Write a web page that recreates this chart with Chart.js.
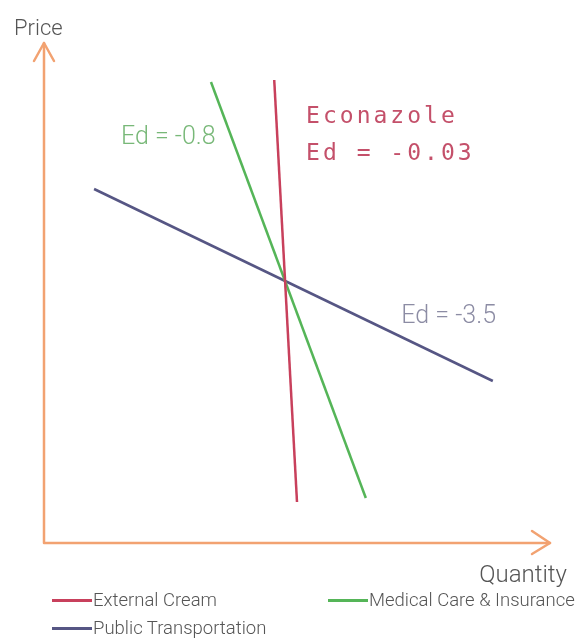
<!DOCTYPE html>
<html>
<head>
<meta charset="utf-8">
<script src="https://cdn.jsdelivr.net/npm/chart.js@4.4.1/dist/chart.umd.min.js"></script>
<style>
    body { margin: 0; background: #fff; }
    #wrap { position: relative; width: 584px; height: 638px; }
    #legend { position: absolute; left: 52px; top: 589px; width: 530px; font-family: Roboto, "Open Sans", sans-serif; font-weight: 300; font-size: 18.5px; color: #555; }
    .legend-item { position: absolute; display: flex; align-items: center; white-space: nowrap; }
    .legend-line { width: 40px; height: 3px; margin-right: 1px; }
</style>
</head>
<body>
<div id="wrap">
    <canvas id="elasticityChart" width="584" height="638"></canvas>
    <div id="legend"></div>
</div>
<script>
// demand curves, in axis units (0-100 both ways)
const seriesNames = ['External Cream', 'Medical Care & Insurance', 'Public Transportation'];
const seriesColors = ['#c8405c', '#55b558', '#565684'];
const creamQty = [45.5, 50.0];
const creamPrice = [92.6, 8.2];
const medicalQty = [33.0, 63.6];
const medicalPrice = [92.2, 9.0];
const transportQty = [9.9, 88.7];
const transportPrice = [70.8, 32.4];

const axisColor = '#f2a271';

function toPoints(xs, ys) {
    return xs.map((x, i) => ({ x: x, y: ys[i] }));
}

// text notes placed in axis units
const notes = [
    { text: 'Ed = -0.8', x: 15.2, y: 79.8, color: '#78b878', font: '300 25px Roboto, sans-serif', spacing: '0px' },
    { text: 'Ed = -3.5', x: 70.6, y: 44.0, color: '#8c8ca4', font: '300 25px Roboto, sans-serif', spacing: '0px' },
    { text: 'Econazole', x: 51.8, y: 84.0, color: '#c4506a', font: '23px "DejaVu Sans Mono", monospace', spacing: '3px' },
    { text: 'Ed = -0.03', x: 51.8, y: 76.6, color: '#c4506a', font: '23px "DejaVu Sans Mono", monospace', spacing: '3px' },
];

const axesPlugin = {
    id: 'arrowAxes',
    beforeDatasetsDraw(chart) {
        const ctx = chart.ctx;
        const a = chart.chartArea;
        ctx.save();
        ctx.strokeStyle = axisColor;
        ctx.lineWidth = 2.5;
        ctx.lineCap = 'round';
        ctx.lineJoin = 'round';
        ctx.beginPath();
        ctx.moveTo(a.left, a.top);
        ctx.lineTo(a.left, a.bottom);
        ctx.lineTo(a.right, a.bottom);
        ctx.stroke();
        // arrow heads
        ctx.beginPath();
        ctx.moveTo(a.left - 10, a.top + 18);
        ctx.lineTo(a.left, a.top);
        ctx.lineTo(a.left + 10, a.top + 18);
        ctx.moveTo(a.right - 18, a.bottom - 12);
        ctx.lineTo(a.right, a.bottom);
        ctx.lineTo(a.right - 18, a.bottom + 11);
        ctx.stroke();

        ctx.fillStyle = '#555';
        ctx.font = '300 22px Roboto, sans-serif';
        ctx.textBaseline = 'alphabetic';
        ctx.textAlign = 'left';
        ctx.fillText('Price', a.left - 30, a.top - 8);
        ctx.textAlign = 'right';
        ctx.font = '300 24px Roboto, sans-serif';
        ctx.fillText('Quantity', a.right + 17, a.bottom + 39);
        ctx.restore();
    },
    afterDatasetsDraw(chart) {
        const ctx = chart.ctx;
        const xs = chart.scales.x;
        const ys = chart.scales.y;
        ctx.save();
        ctx.textAlign = 'left';
        ctx.textBaseline = 'alphabetic';
        notes.forEach(n => {
            ctx.font = n.font;
            ctx.fillStyle = n.color;
            if ('letterSpacing' in ctx) ctx.letterSpacing = n.spacing;
            ctx.fillText(n.text, xs.getPixelForValue(n.x), ys.getPixelForValue(n.y));
        });
        ctx.restore();
    }
};

const ctx = document.getElementById('elasticityChart').getContext('2d');
const chart = new Chart(ctx, {
    type: 'scatter',
    data: {
        datasets: [
            { label: seriesNames[0], data: toPoints(creamQty, creamPrice), borderColor: seriesColors[0] },
            { label: seriesNames[1], data: toPoints(medicalQty, medicalPrice), borderColor: seriesColors[1] },
            { label: seriesNames[2], data: toPoints(transportQty, transportPrice), borderColor: seriesColors[2] },
        ].map(ds => Object.assign(ds, { showLine: true, pointRadius: 0, borderWidth: 2.5 })),
    },
    options: {
        responsive: false,
        animation: false,
        layout: { padding: { left: 44, top: 43, right: 34, bottom: 95 } },
        scales: {
            x: { type: 'linear', min: 0, max: 100, display: false },
            y: { type: 'linear', min: 0, max: 100, display: false },
        },
        plugins: {
            legend: { display: false },
            tooltip: { enabled: false },
        },
    },
    plugins: [axesPlugin],
});

// legend laid out in two columns like the original
const legendSlots = [
    { left: 0, top: 0 },
    { left: 276, top: 0 },
    { left: 0, top: 28 },
];
const legendBox = document.getElementById('legend');
chart.data.datasets.forEach((ds, i) => {
    const item = document.createElement('div');
    item.classList.add('legend-item');
    item.style.left = legendSlots[i].left + 'px';
    item.style.top = legendSlots[i].top + 'px';

    const swatch = document.createElement('span');
    swatch.classList.add('legend-line');
    swatch.style.background = ds.borderColor;
    item.appendChild(swatch);

    const label = document.createElement('span');
    label.innerText = ds.label;
    item.appendChild(label);

    legendBox.appendChild(item);
});
</script>
</body>
</html>
